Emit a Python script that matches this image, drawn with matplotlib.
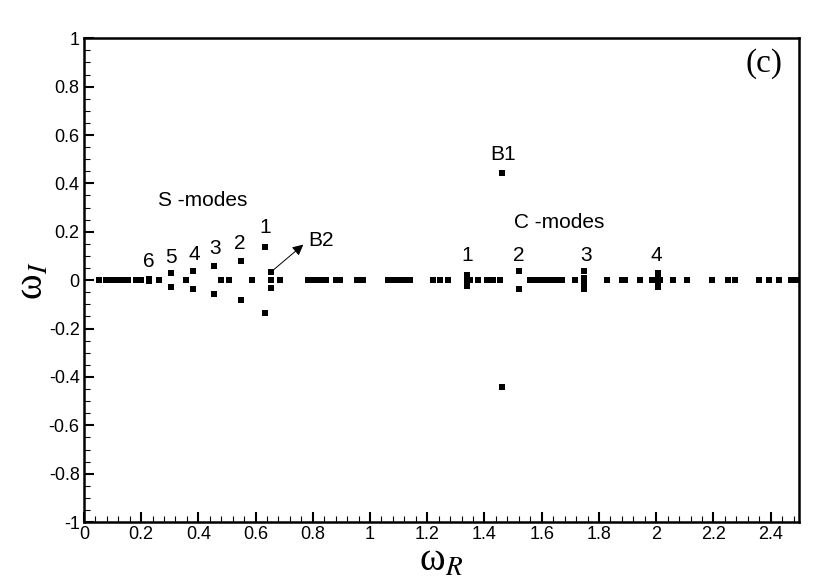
import matplotlib
matplotlib.use('Agg')
import matplotlib.pyplot as plt
from matplotlib.ticker import MultipleLocator

plt.rcParams['font.family'] = ['Liberation Sans', 'DejaVu Sans']
plt.rcParams['mathtext.fontset'] = 'stix'

# eigenvalues lying on the real axis (omega_I = 0)
real_axis_wr = [0.054, 0.079, 0.099, 0.118, 0.138, 0.153, 0.182, 0.200, 0.228, 0.263,
                0.357, 0.480, 0.507, 0.589, 0.655, 0.687,
                0.785, 0.800, 0.815, 0.830, 0.845, 0.880, 0.895, 0.953, 0.975,
                1.064, 1.080, 1.095, 1.105, 1.120, 1.140, 1.220, 1.245, 1.274,
                1.338, 1.350, 1.378, 1.410, 1.430, 1.455,
                1.560, 1.580, 1.600, 1.620, 1.640, 1.658, 1.670, 1.717,
                1.827, 1.880, 1.890, 1.944, 1.985, 1.995, 2.005, 2.015, 2.060, 2.107,
                2.195, 2.250, 2.275, 2.358, 2.393, 2.428, 2.470, 2.490]

# complex conjugate pairs: (omega_R, |omega_I|)
pair_wr = [0.228, 0.303, 0.380, 0.456, 0.549, 0.634, 0.655,
           1.338, 1.519, 1.748, 1.748, 2.005, 2.005, 1.460]
pair_wi = [0.005, 0.028, 0.038, 0.058, 0.080, 0.136, 0.032,
           0.022, 0.036, 0.036, 0.010, 0.028, 0.010, 0.443]

# mode number labels
s_labels = ['6', '5', '4', '3', '2', '1']
s_label_x = [0.228, 0.304, 0.385, 0.458, 0.545, 0.633]
s_label_y = [0.076, 0.092, 0.107, 0.131, 0.152, 0.216]
c_labels = ['1', '2', '3', '4']
c_label_x = [1.338, 1.519, 1.755, 2.002]
c_label_y = [0.103, 0.103, 0.103, 0.103]

fig = plt.figure(figsize=(8.3, 5.88), dpi=100)
ax = fig.add_axes([0.101, 0.112, 0.862, 0.823])

ax.plot(real_axis_wr, [0.0] * len(real_axis_wr), 's', color='black', ms=3.8, mew=0)
ax.plot(pair_wr, pair_wi, 's', color='black', ms=3.8, mew=0)
ax.plot(pair_wr, [-v for v in pair_wi], 's', color='black', ms=3.8, mew=0)

for t, x, y in zip(s_labels, s_label_x, s_label_y):
    ax.text(x, y, t, fontsize=15, ha='center', va='center')
for t, x, y in zip(c_labels, c_label_x, c_label_y):
    ax.text(x, y, t, fontsize=15, ha='center', va='center')

ax.text(0.417, 0.33, 'S -modes', fontsize=15, ha='center', va='center')
ax.text(1.66, 0.24, 'C -modes', fontsize=15, ha='center', va='center')
ax.text(1.466, 0.52, 'B1', fontsize=15, ha='center', va='center')
ax.text(0.83, 0.163, 'B2', fontsize=15, ha='center', va='center')
ax.annotate('', xy=(0.767, 0.147), xytext=(0.658, 0.038),
            arrowprops=dict(arrowstyle='-|>', color='black', lw=0.7,
                            mutation_scale=16, shrinkA=0, shrinkB=0))
ax.text(2.375, 0.895, '(c)', fontsize=24, ha='center', va='center',
        family=['Liberation Serif', 'DejaVu Serif'])

ax.set_xlim(0, 2.5)
ax.set_ylim(-1, 1)
ax.xaxis.set_major_locator(MultipleLocator(0.2))
ax.xaxis.set_minor_locator(MultipleLocator(0.04))
ax.yaxis.set_major_locator(MultipleLocator(0.2))
ax.yaxis.set_minor_locator(MultipleLocator(0.05))
ax.set_xticks([0, 0.2, 0.4, 0.6, 0.8, 1, 1.2, 1.4, 1.6, 1.8, 2, 2.2, 2.4])
ax.set_xticklabels(['0', '0.2', '0.4', '0.6', '0.8', '1', '1.2', '1.4', '1.6',
                    '1.8', '2', '2.2', '2.4'])
ax.set_yticks([-1, -0.8, -0.6, -0.4, -0.2, 0, 0.2, 0.4, 0.6, 0.8, 1])
ax.set_yticklabels(['-1', '-0.8', '-0.6', '-0.4', '-0.2', '0', '0.2', '0.4',
                    '0.6', '0.8', '1'])
ax.tick_params(which='major', direction='in', length=7, width=1.5, labelsize=13,
               top=False, right=False, pad=3)
ax.tick_params(which='minor', direction='in', length=4, width=0.8,
               top=False, right=False)
for s in ax.spines.values():
    s.set_linewidth(1.8)

ax.set_xlabel('ω$_R$', fontsize=28, labelpad=0,
              family=['Liberation Serif', 'DejaVu Serif'])
ax.set_ylabel('ω$_I$', fontsize=28, labelpad=-2,
              family=['Liberation Serif', 'DejaVu Serif'])

fig.savefig('out.png', dpi=100)
